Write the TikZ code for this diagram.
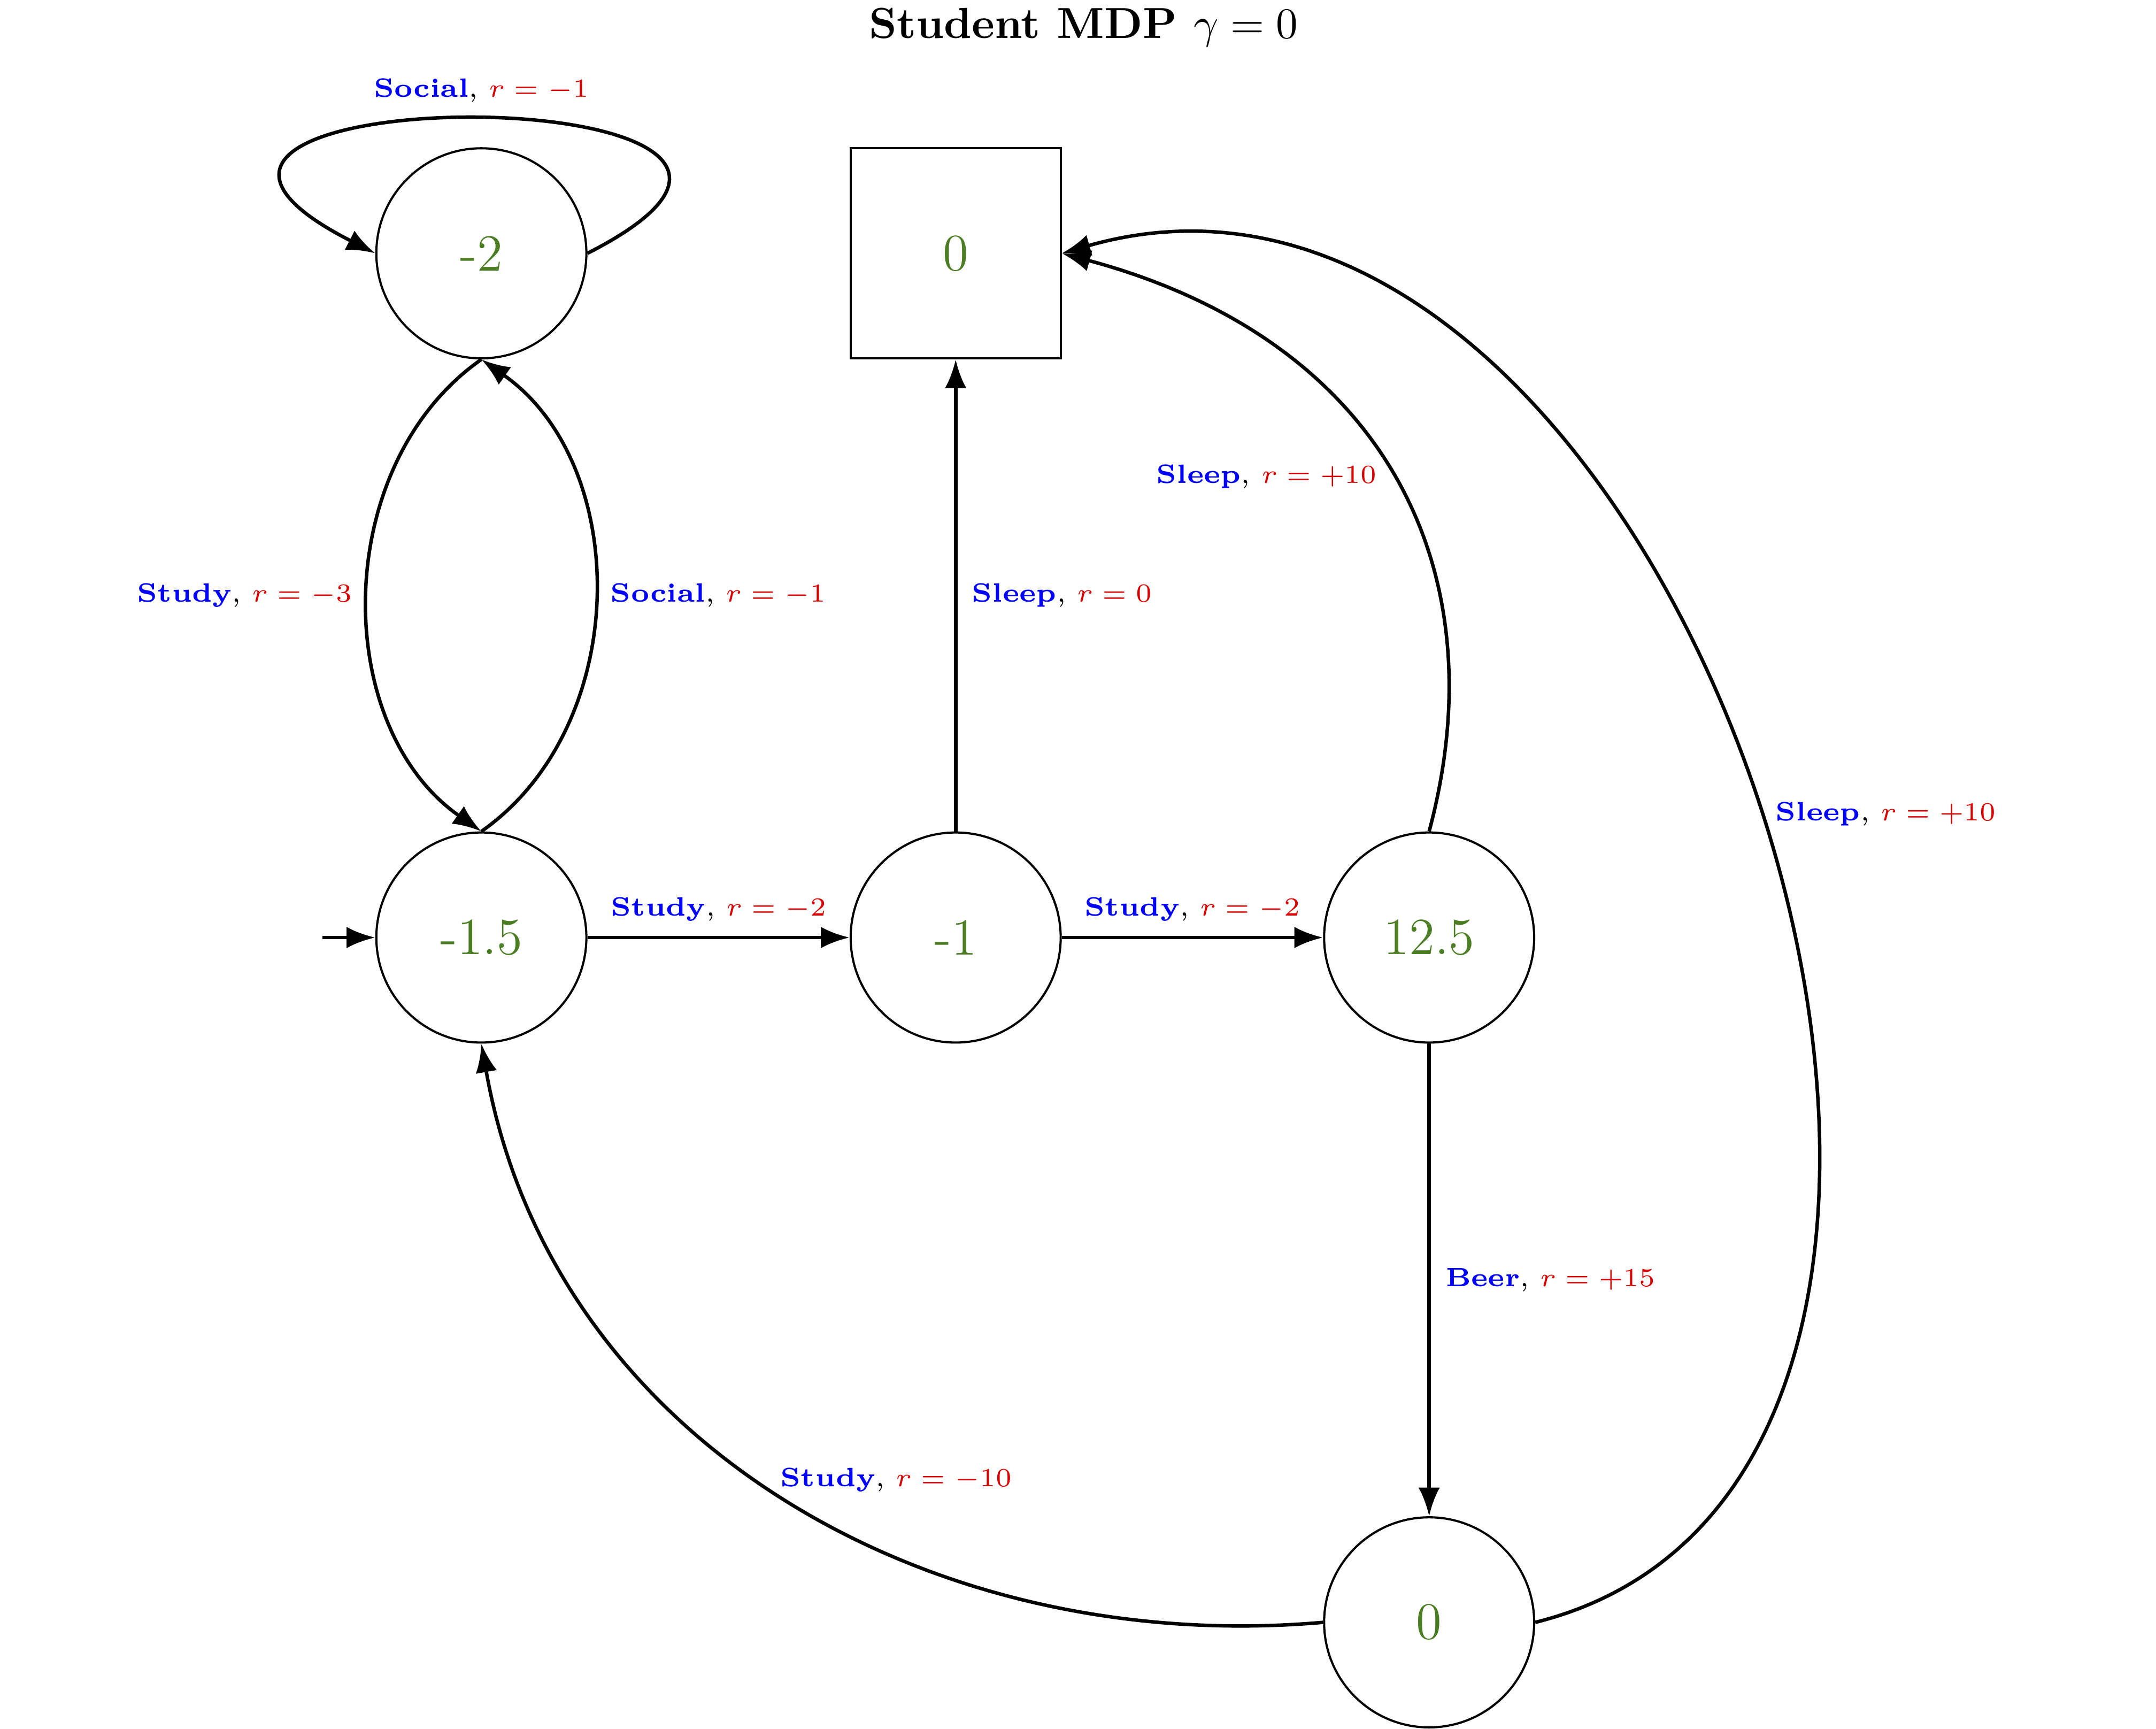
\documentclass[tikz,border=0pt]{standalone}
\usetikzlibrary{arrows.meta}
\definecolor{valgreen}{RGB}{75,125,35}
\definecolor{rwdred}{RGB}{217,0,0}
\newcommand{\mdplbl}[2]{\textcolor{blue}{\textbf{#1}}, \textcolor{rwdred}{$r=#2$}}
\begin{document}
\begin{tikzpicture}[every node/.style={font=\fontsize{6.1pt}{7.3pt}\selectfont},
  mdpstate/.style={draw,line width=0.5pt,circle,minimum size=1.7cm,font=\large,text=valgreen},
  mdpterm/.style={draw,line width=0.5pt,rectangle,minimum size=1.7cm,font=\large,text=valgreen},
  trans/.style={-{Latex},thick}]
\useasboundingbox (0,0) rectangle (17.45,13.99);
\node[font=\normalsize\bfseries] (title) at (8.77,13.77) {Student MDP $\gamma = 0$};
% states
\foreach \nm/\x/\y/\v in {s2/3.896/11.94/-2, s1/3.896/6.403/-1.5, s3/7.735/6.403/-1, s4/11.567/6.403/12.5, s5/11.567/0.861/0} {
  \node[mdpstate] (\nm) at (\x,\y) {\v};
}
\node[mdpterm] (term) at (7.735,11.94) {0};
\coordinate (start) at (2.61,6.403);
\draw[trans] (start) -- (s1);
% transitions
\draw[trans] (s2.east) .. controls +(27:3.2) and +(153:3.2) .. (s2.west) node[midway,above] {\mdplbl{Social}{-1}};
\draw[trans] (s2.south) to[out=215,in=145] node[left] {\mdplbl{Study}{-3}} (s1.north);
\draw[trans] (s1.north) to[out=35,in=-35] node[right] {\mdplbl{Social}{-1}} (s2.south);
\draw[trans] (s1) -- node[above] {\mdplbl{Study}{-2}} (s3);
\draw[trans] (s3) -- node[above] {\mdplbl{Study}{-2}} (s4);
\draw[trans] (s3) -- node[right] {\mdplbl{Sleep}{0}} (term);
\draw[trans] (s4.north) .. controls +(75:2.2) and +(-15:2.7) .. (term.east) node[midway,left] {\mdplbl{Sleep}{+10}};
\draw[trans] (s4) -- node[right] {\mdplbl{Beer}{+15}} (s5);
\draw[trans] (s5.east) .. controls +(14:5.0) and +(16:5.3) .. (term.east) node[pos=0.5,right] {\mdplbl{Sleep}{+10}};
\draw[trans] (s5.west) to[out=185,in=280] node[above right,inner sep=0pt] {\mdplbl{Study}{-10}} (s1.south);
\end{tikzpicture}
\end{document}
